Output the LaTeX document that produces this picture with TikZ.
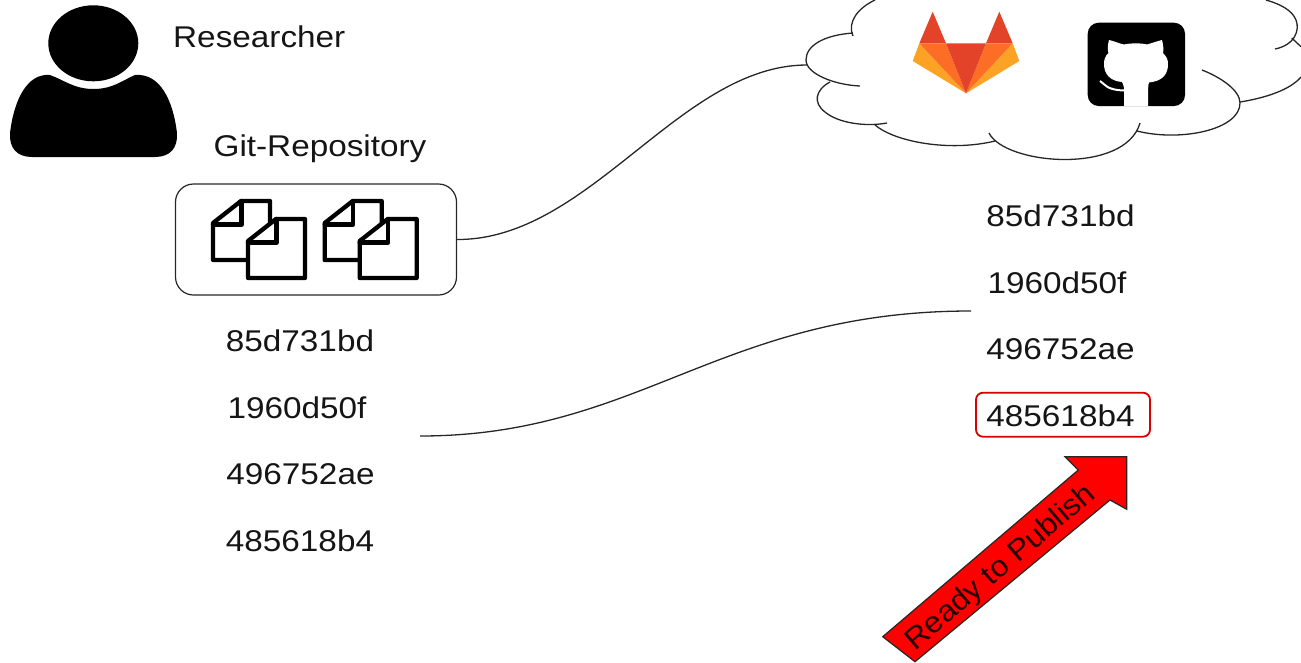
\documentclass[tikz,border=0pt]{standalone}
\usepackage{fontspec}
\usepackage{graphicx}
\setmainfont{Liberation Sans}
\definecolor{txt}{HTML}{151515}
\definecolor{glred}{HTML}{E24329}
\definecolor{glorange}{HTML}{FC6D26}
\definecolor{glyellow}{HTML}{FCA326}
\newcommand{\wtxt}[1]{\scalebox{1.11}[1]{#1}}
\tikzset{
 lbl/.style={inner sep=0pt,text=txt,font=\fontsize{30}{34}\selectfont},
 cl/.style={line width=1.3pt,draw=black!85},
 docline/.style={line width=4.3pt,line join=round,line cap=round,draw=black},
}
\newcommand{\docpage}[2]{%
 \path[docline,fill=white,shift={(#1,#2)}] (28,0) -- (57,0) -- (57,59) -- (0,59) -- (0,22) -- cycle;
 \path[docline,shift={(#1,#2)}] (0,23.5) -- (28.5,23.5) -- (28.5,0);
}
\newcommand{\docpair}[2]{\docpage{#1}{#2}\docpage{#1+35}{#2+18}}
\begin{document}
\begin{tikzpicture}[x=1pt,y=-1pt]
\useasboundingbox (0,0) rectangle (1301,662);
% person
\fill (93.3,43.3) ellipse (45 and 38);
\fill (50,75) .. controls (64,80) and (74,89) .. (93.5,89) .. controls (113,89) and (123,80) .. (135,75)
  .. controls (160,73) and (173,100) .. (177,133) .. controls (178,148) and (170,157) .. (155,157)
  -- (32,157) .. controls (17,157) and (9,148) .. (10,133) .. controls (14,100) and (27,73) .. (50,75) -- cycle;
\node[lbl,anchor=west] (researcher) at (173,37) {\wtxt{Researcher}};
\node[lbl] (gitlabel) at (320,149) {\wtxt{Git-Repository}};
% repo
\node[draw=black!85,line width=1.2pt,rounded corners=18pt,minimum width=281pt,minimum height=111pt,inner sep=0pt] (repo) at (316,239.5) {};
\docpair{213}{201}
\docpair{324.7}{201}
% left hashes
\node[lbl] (l1) at (300,341) {\wtxt{85d731bd}};
\node[lbl] (l2) at (297,407.5) {\wtxt{1960d50f}};
\node[lbl] (l3) at (300.5,474) {\wtxt{496752ae}};
\node[lbl] (l4) at (300,540.5) {\wtxt{485618b4}};
% right hashes
\node[lbl] (r1) at (1060.5,216) {\wtxt{85d731bd}};
\node[lbl] (r2) at (1057,283) {\wtxt{1960d50f}};
\node[lbl] (r3) at (1060.5,349) {\wtxt{496752ae}};
\node[draw=red!85!black,line width=1.8pt,rounded corners=7pt,minimum width=174pt,minimum height=44pt,inner sep=0pt] (rbox) at (1063,414.7) {};
\node[lbl] (r4) at (1060.5,416) {\wtxt{485618b4}};
% cloud
\draw[cl] (853,36) .. controls (847,22) and (858,8) .. (875,0);
\draw[cl] (853,33) .. controls (825,35) and (806,45) .. (806,60) .. controls (806,74) and (835,85) .. (860,86);
\draw[cl] (830,82) .. controls (815,90) and (813,103) .. (825,112) .. controls (838,123) and (865,127) .. (887,123);
\draw[cl] (875,125) .. controls (895,142) and (950,152) .. (995,141);
\draw[cl] (989,133) .. controls (1005,165) and (1125,175) .. (1140,123);
\draw[cl] (1137,131) .. controls (1180,142) and (1240,130) .. (1240,103) .. controls (1240,90) and (1220,77) .. (1202,70);
\draw[cl] (1240,102) .. controls (1265,98) and (1290,90) .. (1301,77);
\draw[cl] (1275,49) .. controls (1295,45) and (1300,30) .. (1296,20) .. controls (1292,10) and (1280,4) .. (1266,0);
\draw[cl] (1291.7,38) -- (1301,46.7);
% connectors
\coordinate (cloudin) at (807,65);
\coordinate (hashl) at (420,436);
\coordinate (hashr) at (971,311);
\draw[cl] (repo.east) .. controls (590,240) and (680,65) .. (cloudin);
\draw[cl] (hashl) .. controls (640,436) and (720,311) .. (hashr);
% gitlab
\fill[glred] (932.7,11.7) -- (946,43.3) -- (919.3,43.3) -- cycle;
\fill[glred] (999.3,11.7) -- (1012.7,43.3) -- (986,43.3) -- cycle;
\fill[glyellow] (919.3,43.3) -- (966,93.3) -- (912.7,61) -- cycle;
\fill[glyellow] (1012.7,43.3) -- (1019.3,61) -- (966,93.3) -- cycle;
\fill[glorange] (919.3,43.3) -- (946,43.3) -- (966,93.3) -- cycle;
\fill[glorange] (1012.7,43.3) -- (986,43.3) -- (966,93.3) -- cycle;
\fill[glred] (946,43.3) -- (986,43.3) -- (966,93.3) -- cycle;
% github
\fill[black,rounded corners=11pt] (1087.7,22.7) rectangle (1185,106);
\fill[white] (1109,40) .. controls (1114,41) and (1120,44) .. (1124,44.5) .. controls (1130,43) and (1142,43) .. (1147,44.5)
  .. controls (1152,43) and (1158,41) .. (1162,40) .. controls (1163,44) and (1164,50) .. (1163,53) .. controls (1167,57) and (1168,60) .. (1168,64)
  .. controls (1168,74) and (1163,81) .. (1149,82.5) .. controls (1148,85) and (1148,88) .. (1148,106) -- (1124,106) -- (1124,90)
  .. controls (1124,86) and (1123,84) .. (1122,82) .. controls (1110,81) and (1104,74) .. (1104,64) .. controls (1104,60) and (1105,56) .. (1108.5,53)
  .. controls (1107,49) and (1108,44) .. (1109,40) -- cycle;
\draw[white,line width=2pt] (1100,81) .. controls (1105,84) and (1106,90) .. (1124,90.5);
% arrow
\draw[fill=red,draw=black!85,line width=1.2pt,line join=miter]
  (1126.7,456.7) -- (1126.7,509.3) -- (1110,500) -- (915,661.7) -- (882.7,636.7) -- (1078.3,470) -- (1065,456.7) -- cycle;
\node[lbl,rotate=40.4,text=black!85!red] (publish) at (1001,568) {\scalebox{1.05}[1]{Ready to Publish}};
\end{tikzpicture}
\end{document}
